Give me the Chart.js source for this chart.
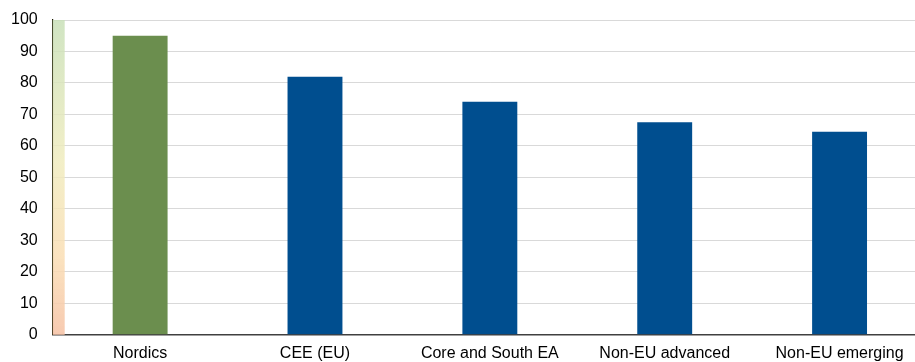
<!DOCTYPE html>
<html>
<head>
<meta charset="utf-8">
<script src="https://cdn.jsdelivr.net/npm/chart.js@4/dist/chart.umd.min.js"></script>
<style>
html,body{margin:0;padding:0;background:#fff;overflow:hidden;}
#wrap{width:915px;height:362px;overflow:hidden;}
</style>
</head>
<body>
<div id="wrap"><canvas id="c" width="930" height="362"></canvas></div>
<script>
const categories = ["Nordics", "CEE (EU)", "Core and South EA", "Non-EU advanced", "Non-EU emerging"];
const values = [95, 82, 74, 67.5, 64.5];
const barColors = ["#6b8e4e", "#004e8f", "#004e8f", "#004e8f", "#004e8f"];
const yTicks = [0, 10, 20, 30, 40, 50, 60, 70, 80, 90, 100];

const stripPlugin = {
  id: 'strip',
  beforeDatasetsDraw(chart) {
    const {ctx, chartArea} = chart;
    const y = chart.scales.y;
    const top = y.getPixelForValue(100), bot = y.getPixelForValue(0);
    const g = ctx.createLinearGradient(0, top, 0, bot);
    g.addColorStop(0, 'rgba(200,224,184,0.85)');
    g.addColorStop(0.45, 'rgba(240,236,190,0.85)');
    g.addColorStop(0.75, 'rgba(250,222,180,0.85)');
    g.addColorStop(1, 'rgba(246,196,168,0.9)');
    ctx.save();
    ctx.fillStyle = g;
    ctx.fillRect(chartArea.left, top, 12, bot - top);
    ctx.restore();
  }
};

new Chart(document.getElementById('c'), {
  type: 'bar',
  data: {
    labels: categories,
    datasets: [{
      data: values,
      backgroundColor: barColors,
      borderWidth: 0,
      barPercentage: 0.314,
      categoryPercentage: 1
    }]
  },
  options: {
    responsive: false,
    animation: false,
    layout: {padding: {top: 20, right: 3, left: -4, bottom: -10}},
    plugins: {legend: {display: false}, tooltip: {enabled: false}},
    scales: {
      x: {
        grid: {display: false, drawTicks: false},
        border: {display: true, color: '#404040', width: 1.5},
        ticks: {color: '#000', font: {family: 'Liberation Sans, Arial', size: 16}, padding: 9, maxRotation: 0, autoSkip: false}
      },
      y: {
        min: 0, max: 100,
        afterBuildTicks(scale) { scale.ticks = yTicks.map(v => ({value: v})); },
        afterFit(scale) { scale.paddingTop = 0; },
        grid: {color: '#d9d9d9', lineWidth: 1, drawTicks: false},
        border: {display: true, color: '#1a1a00', width: 1.2},
        ticks: {color: '#000', font: {family: 'Liberation Sans, Arial', size: 16}, padding: 15}
      }
    }
  },
  plugins: [stripPlugin]
});
</script>
</body>
</html>
